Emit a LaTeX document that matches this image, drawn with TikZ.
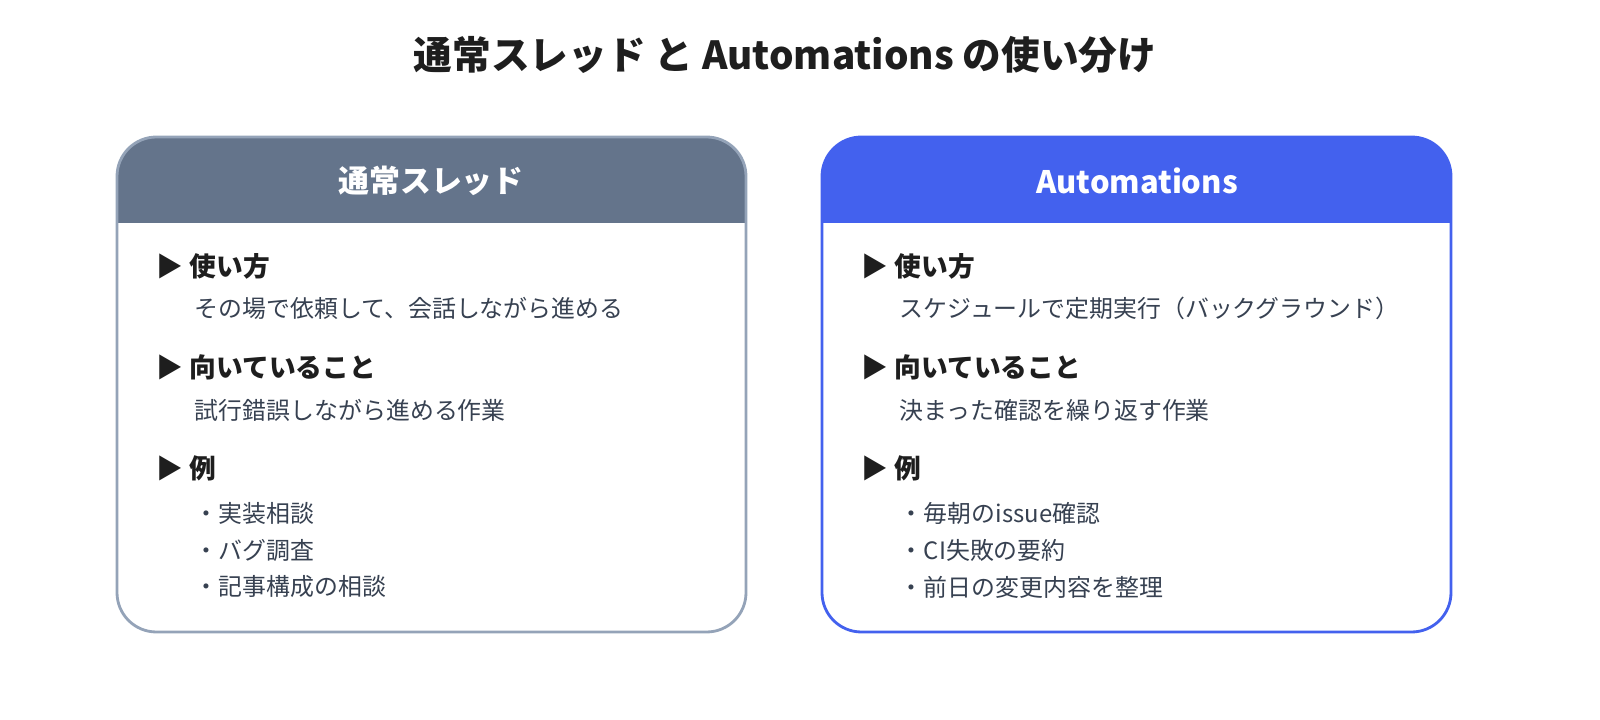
\documentclass[tikz,border=0pt]{standalone}
\usepackage{fontspec}
\setmainfont{Noto Sans CJK JP}
\usetikzlibrary{positioning}
\definecolor{slate}{HTML}{64748B}
\definecolor{slateline}{HTML}{94A3B8}
\definecolor{royal}{HTML}{4361EE}
\definecolor{ink}{HTML}{1E1E1E}
\definecolor{bodyink}{HTML}{374151}
\tikzset{
  head/.style={anchor=west,font=\fontsize{19}{21}\selectfont\bfseries,text=ink},
  body/.style={anchor=west,font=\fontsize{17}{19}\selectfont,text=bodyink},
  title/.style={font=\fontsize{22}{24}\selectfont\bfseries,text=white}
}
\begin{document}
\begin{tikzpicture}[x=0.025cm,y=-0.025cm]
  \useasboundingbox (0,0) rectangle (1600,720);
  \node[text=ink] (t) at (785,55) {\fontsize{27.5}{30}\selectfont\bfseries 通常スレッド と Automations の使い分け};

  % left card
  \begin{scope}
    \clip[rounded corners=28] (117,137) rectangle (746,632);
    \fill[white] (117,137) rectangle (746,632);
    \fill[slate] (117,137) rectangle (746,223);
  \end{scope}
  \draw[slateline,line width=2pt,rounded corners=28] (117,137) rectangle (746,632);
  \node[title] (lt) at (431,181) {通常スレッド};
  \node[head] (l1) at (152,266) {▶ 使い方};
  \node[body] (l1a) at (190,308) {その場で依頼して、会話しながら進める};
  \node[head] (l2) at (152,367) {▶ 向いていること};
  \node[body] (l2a) at (190,410) {試行錯誤しながら進める作業};
  \node[head] (l3) at (152,468) {▶ 例};
  \node[body] (l3a) at (190,513) {・実装相談};
  \node[body] (l3b) at (190,550) {・バグ調査};
  \node[body] (l3c) at (190,587) {・記事構成の相談};

  % right card
  \begin{scope}
    \clip[rounded corners=28] (822,137) rectangle (1451,632);
    \fill[white] (822,137) rectangle (1451,632);
    \fill[royal] (822,137) rectangle (1451,223);
  \end{scope}
  \draw[royal,line width=2pt,rounded corners=28] (822,137) rectangle (1451,632);
  \node[title] (rt) at (1137,181) {Automations};
  \node[head] (r1) at (857,266) {▶ 使い方};
  \node[body] (r1a) at (895,308) {スケジュールで定期実行（バックグラウンド）};
  \node[head] (r2) at (857,367) {▶ 向いていること};
  \node[body] (r2a) at (895,410) {決まった確認を繰り返す作業};
  \node[head] (r3) at (857,468) {▶ 例};
  \node[body] (r3a) at (895,513) {・毎朝のissue確認};
  \node[body] (r3b) at (895,550) {・CI失敗の要約};
  \node[body] (r3c) at (895,587) {・前日の変更内容を整理};
\end{tikzpicture}
\end{document}
